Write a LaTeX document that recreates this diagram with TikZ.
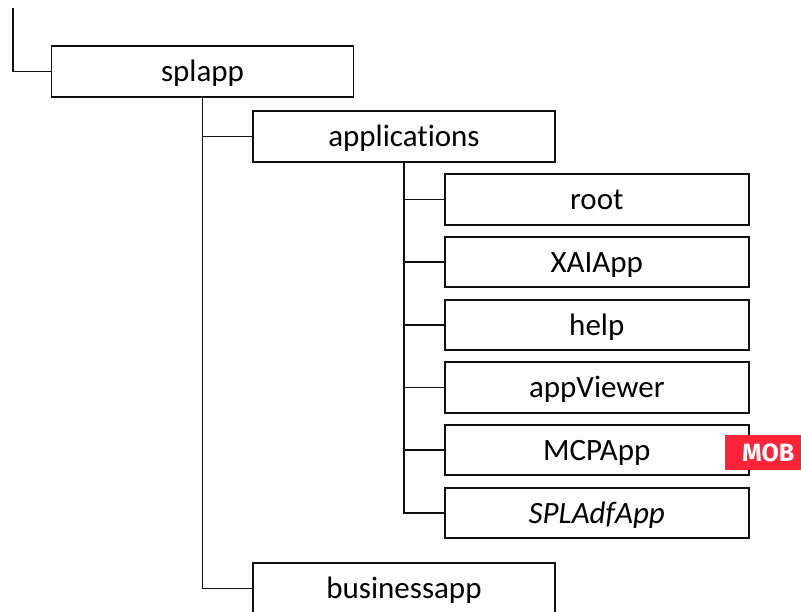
\documentclass[tikz,border=0pt]{standalone}
\usepackage{fontspec}
\setmainfont{Carlito}[Ligatures=NoCommon]
\newfontfamily\mobfont{Fira Sans}
\definecolor{mobred}{HTML}{FE2437}
\definecolor{linegray}{HTML}{111111}
\tikzset{
  dirbox/.style={draw=linegray,line width=1.7pt,fill=white,inner sep=0pt,minimum height=50.5pt,text height=22pt,text depth=2pt,font=\fontsize{31}{36}\selectfont,text=black},
  wide/.style={dirbox,minimum width=302pt},
  leaf/.style={dirbox,minimum width=304pt},
  link/.style={draw=linegray,line width=1.7pt,line join=miter},
  badge/.style={fill=mobred,inner sep=0pt,minimum width=76pt,minimum height=35pt,text=white,font=\mobfont\bfseries\fontsize{25}{30}\selectfont}
}
\begin{document}
\begin{tikzpicture}[x=1pt,y=-1pt]
\path[use as bounding box] (0,0) rectangle (801,611);
\clip (0,0) rectangle (801,611);
\coordinate (top) at (13,8);
\node[wide] (splapp) at (202.5,71.5) {splapp};
\node[wide] (applications) at (404,136.5) {applications};
\node[wide] (businessapp) at (404,588.5) {businessapp};
\node[leaf] (root) at (596.8,199.5) {root};
\node[leaf] (xaiapp) at (596.8,262) {XAIApp};
\node[leaf] (help) at (596.8,325) {help};
\node[leaf] (appviewer) at (596.8,387.5) {appViewer};
\node[leaf] (mcpapp) at (596.8,450) {MCPApp};
\node[leaf] (spladfapp) at (596.8,513) {\itshape SPLAdfApp};
\node[badge,anchor=north west] (mob) at (725,435) {\hspace*{10pt}MOB};
\draw[link] (top) |- (splapp.west);
\draw[link] (splapp.south) |- (applications.west);
\draw[link] (splapp.south) |- (businessapp.west);
\draw[link] (applications.south) |- (root.west);
\draw[link] (applications.south) |- (xaiapp.west);
\draw[link] (applications.south) |- (help.west);
\draw[link] (applications.south) |- (appviewer.west);
\draw[link] (applications.south) |- (mcpapp.west);
\draw[link] (applications.south) |- (spladfapp.west);
\end{tikzpicture}
\end{document}
